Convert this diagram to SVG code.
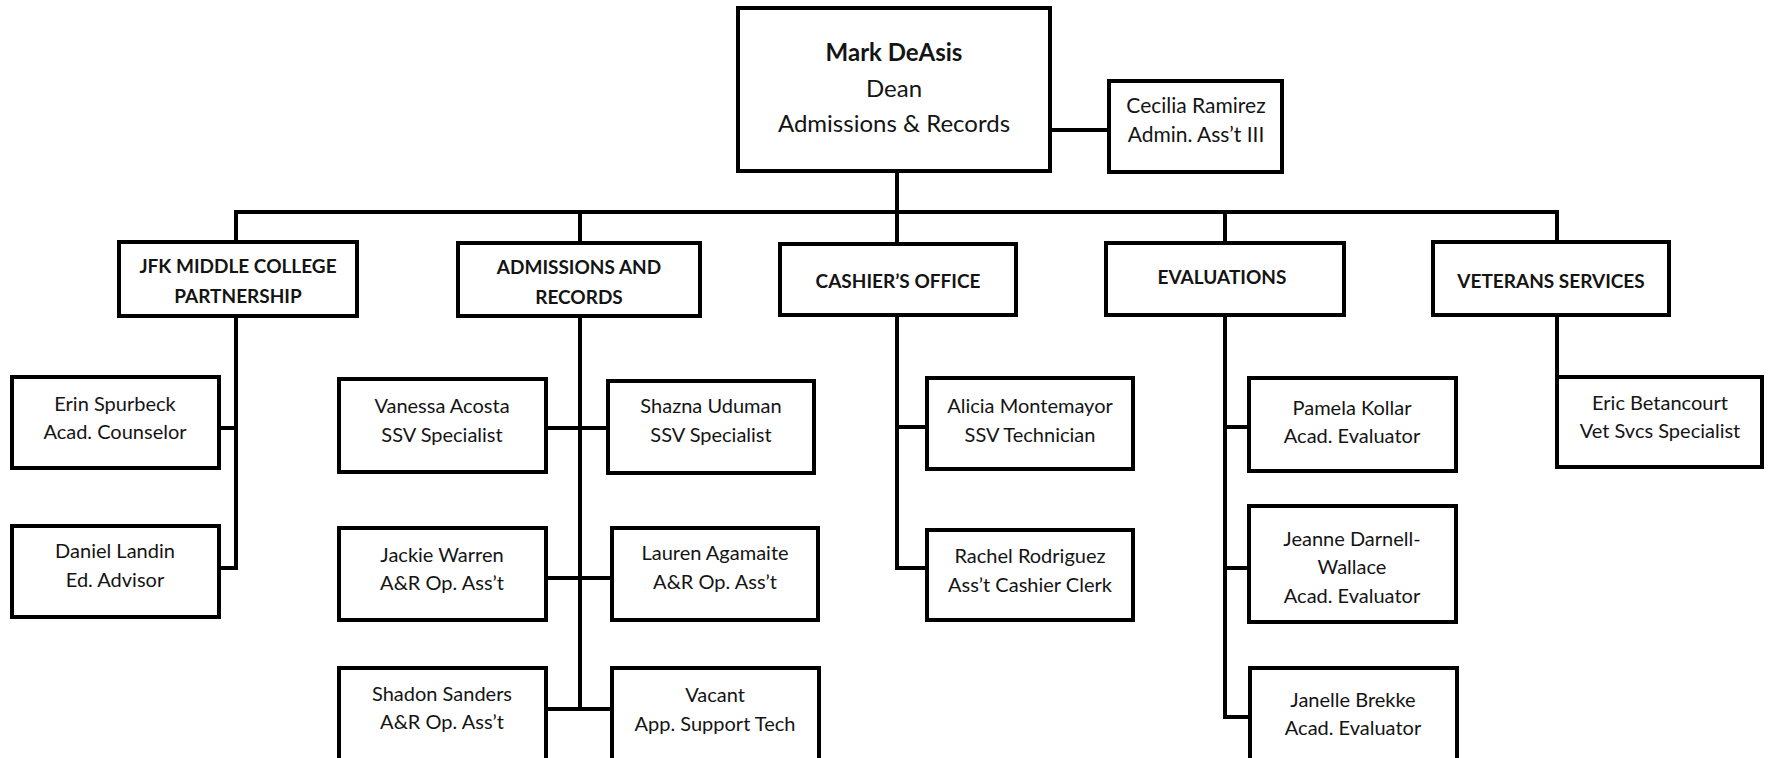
<svg xmlns="http://www.w3.org/2000/svg" width="1769" height="758" viewBox="0 0 1769 758">
<style>
.box{fill:#fff;stroke:#000;stroke-width:4}
.ln{fill:none;stroke:#000;stroke-width:4;stroke-linejoin:miter}
text{font-family:Lato,"Liberation Sans",sans-serif;fill:#141414;text-anchor:middle}
.p{font-size:20px}
.c{font-size:21px}
.h{font-size:19px;font-weight:bold}
.dn{font-size:24px;font-weight:bold}
.dt{font-size:24px}
</style>
<rect width="1769" height="758" fill="#fff"/>
<g id="connectors">
<line class="ln" x1="1050" y1="130" x2="1109" y2="130"/>
<line class="ln" x1="897" y1="171" x2="897" y2="212"/>
<polyline class="ln" points="236,242 236,212 1557,212 1557,242"/>
<line class="ln" x1="580" y1="212" x2="580" y2="243"/>
<line class="ln" x1="897" y1="212" x2="897" y2="244"/>
<line class="ln" x1="1225" y1="212" x2="1225" y2="243"/>
<polyline class="ln" points="236,316 236,568 219,568"/>
<line class="ln" x1="219" y1="428" x2="236" y2="428"/>
<line class="ln" x1="580" y1="316" x2="580" y2="709"/>
<line class="ln" x1="546" y1="428" x2="608" y2="428"/>
<line class="ln" x1="546" y1="578" x2="612" y2="578"/>
<line class="ln" x1="546" y1="709" x2="612" y2="709"/>
<polyline class="ln" points="897,315 897,568 927,568"/>
<line class="ln" x1="897" y1="427" x2="927" y2="427"/>
<polyline class="ln" points="1225,315 1225,717 1250,717"/>
<line class="ln" x1="1225" y1="427" x2="1249" y2="427"/>
<line class="ln" x1="1225" y1="568" x2="1249" y2="568"/>
<line class="ln" x1="1557" y1="315" x2="1557" y2="377"/>
</g>
<g id="dean">
<rect class="box" x="738" y="8" width="312" height="163"/>
<text class="dn" x="894" y="61">Mark DeAsis</text>
<text class="dt" x="894" y="97">Dean</text>
<text class="dt" x="894" y="132">Admissions &amp; Records</text>
</g>
<g id="cecilia">
<rect class="box" x="1109" y="81" width="173" height="91"/>
<text class="c" x="1196" y="113">Cecilia Ramirez</text>
<text class="c" x="1196" y="142">Admin. Ass’t III</text>
</g>
<g id="jfk">
<rect class="box" x="119" y="242" width="238" height="74"/>
<text class="h" x="238" y="273">JFK MIDDLE COLLEGE</text>
<text class="h" x="238" y="303">PARTNERSHIP</text>
</g>
<g id="ar">
<rect class="box" x="458" y="243" width="242" height="73"/>
<text class="h" x="579" y="274">ADMISSIONS AND</text>
<text class="h" x="579" y="304">RECORDS</text>
</g>
<g id="cashier">
<rect class="box" x="780" y="244" width="236" height="71"/>
<text class="h" x="898" y="288">CASHIER’S OFFICE</text>
</g>
<g id="eval">
<rect class="box" x="1106" y="243" width="238" height="72"/>
<text class="h" x="1222" y="284">EVALUATIONS</text>
</g>
<g id="vet">
<rect class="box" x="1433" y="242" width="236" height="73"/>
<text class="h" x="1551" y="288">VETERANS SERVICES</text>
</g>
<g id="erin">
<rect class="box" x="12" y="377" width="207" height="91"/>
<text class="p" x="115" y="411">Erin Spurbeck</text>
<text class="p" x="115" y="439">Acad. Counselor</text>
</g>
<g id="daniel">
<rect class="box" x="12" y="526" width="207" height="91"/>
<text class="p" x="115" y="558">Daniel Landin</text>
<text class="p" x="115" y="587">Ed. Advisor</text>
</g>
<g id="vanessa">
<rect class="box" x="339" y="379" width="207" height="93"/>
<text class="p" x="442" y="413">Vanessa Acosta</text>
<text class="p" x="442" y="442">SSV Specialist</text>
</g>
<g id="shazna">
<rect class="box" x="608" y="381" width="206" height="92"/>
<text class="p" x="711" y="413">Shazna Uduman</text>
<text class="p" x="711" y="442">SSV Specialist</text>
</g>
<g id="jackie">
<rect class="box" x="339" y="528" width="207" height="92"/>
<text class="p" x="442" y="562">Jackie Warren</text>
<text class="p" x="442" y="590">A&amp;R Op. Ass’t</text>
</g>
<g id="lauren">
<rect class="box" x="612" y="528" width="206" height="92"/>
<text class="p" x="715" y="560">Lauren Agamaite</text>
<text class="p" x="715" y="589">A&amp;R Op. Ass’t</text>
</g>
<g id="shadon">
<rect class="box" x="339" y="668" width="207" height="94"/>
<text class="p" x="442" y="701">Shadon Sanders</text>
<text class="p" x="442" y="729">A&amp;R Op. Ass’t</text>
</g>
<g id="vacant">
<rect class="box" x="612" y="668" width="207" height="94"/>
<text class="p" x="715" y="702">Vacant</text>
<text class="p" x="715" y="731">App. Support Tech</text>
</g>
<g id="alicia">
<rect class="box" x="927" y="378" width="206" height="91"/>
<text class="p" x="1030" y="413">Alicia Montemayor</text>
<text class="p" x="1030" y="442">SSV Technician</text>
</g>
<g id="rachel">
<rect class="box" x="927" y="530" width="206" height="90"/>
<text class="p" x="1030" y="563">Rachel Rodriguez</text>
<text class="p" x="1030" y="592">Ass’t Cashier Clerk</text>
</g>
<g id="pamela">
<rect class="box" x="1249" y="378" width="207" height="93"/>
<text class="p" x="1352" y="415">Pamela Kollar</text>
<text class="p" x="1352" y="443">Acad. Evaluator</text>
</g>
<g id="jeanne">
<rect class="box" x="1249" y="506" width="207" height="116"/>
<text class="p" x="1352" y="546">Jeanne Darnell-</text>
<text class="p" x="1352" y="574">Wallace</text>
<text class="p" x="1352" y="603">Acad. Evaluator</text>
</g>
<g id="janelle">
<rect class="box" x="1250" y="668" width="207" height="94"/>
<text class="p" x="1353" y="707">Janelle Brekke</text>
<text class="p" x="1353" y="735">Acad. Evaluator</text>
</g>
<g id="eric">
<rect class="box" x="1557" y="377" width="205" height="90"/>
<text class="p" x="1660" y="410">Eric Betancourt</text>
<text class="p" x="1660" y="438">Vet Svcs Specialist</text>
</g>
</svg>
